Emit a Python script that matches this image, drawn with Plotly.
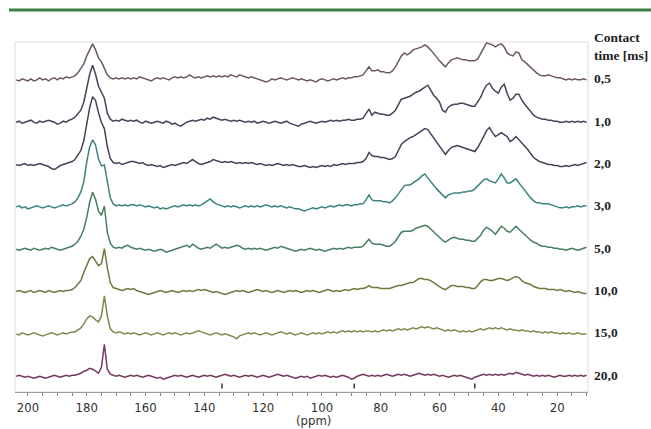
import plotly.graph_objects as go

# chemical shift axis (ppm), one point per ppm, from 204 down to 10
PPM = list(range(204, 9, -1))

CONTACT_LABELS = ["0,5", "1,0", "2,0", "3,0", "5,0", "10,0", "15,0", "20,0"]

# intensities (arbitrary units) for each contact time, ordered 204 -> 10 ppm
T05 = [0, -1, 1, 0, -1, 1, -1, 0, 2, 0, 1, -1, 1, 2, 0, 2, 1, 3, 2, 3,
       4, 7, 11, 16, 24, 30, 36, 30, 22, 18, 12, 5, 2, 1, 2, 1, 2, 1, 2, 1,
       2, 1, 3, 2, 1, 0, -1, 1, 2, 1, 2, 1, 0, 2, 3, 2, 3, 2, 3, 5,
       3, 2, 3, 2, 3, 4, 3, 4, 3, 4, 3, 4, 3, 5, 4, 3, 5, 4, 3, 2,
       3, 2, 1, 0, -1, -2, -1, 1, 0, 1, 2, 1, 0, 1, 2, 1, 0, 1, 0, -1,
       0, -1, -2, 0, 1, 0, -1, 0, 1, 0, 1, 2, 1, 2, 2, 3, 3, 4, 5, 9,
       13, 9, 9, 10, 8, 8, 7, 7, 9, 13, 18, 24, 27, 25, 27, 30, 31, 32, 33, 35,
       33, 30, 26, 23, 19, 16, 13, 17, 20, 21, 22, 21, 20, 20, 19, 19, 19, 21, 26, 32,
       37, 36, 35, 33, 35, 36, 33, 27, 25, 24, 28, 27, 20, 18, 15, 12, 9, 7, 5, 4,
       4, 5, 4, 3, 2, 2, 1, 0, 1, 0, 1, 0, 0, 1, 0]

T10 = [0, 1, -1, 0, 1, 2, 0, -1, 1, 0, 1, 2, 1, 0, -2, -1, 1, 0, 2, 3,
       5, 8, 12, 20, 36, 48, 57, 48, 36, 30, 24, 9, 3, 1, 2, 1, 3, 2, 1, 2,
       1, 2, 0, -1, 1, 0, -1, 0, 1, 0, -1, 1, 0, -2, -1, -3, -4, -2, 0, 1,
       2, 1, 2, 3, 2, 4, 3, 5, 4, 3, 2, 3, 2, 1, 2, 1, 2, 1, 0, 1,
       0, 1, -1, 0, 1, 0, -1, 0, 1, 0, -1, 0, 1, -1, -2, -3, -4, -2, -1, 0,
       1, 0, -1, 0, 1, 0, 1, 2, 1, 2, 1, 2, 2, 3, 2, 2, 3, 3, 4, 8,
       13, 7, 10, 9, 8, 8, 7, 7, 9, 12, 18, 23, 24, 25, 26, 28, 30, 31, 33, 35,
       37, 32, 27, 24, 20, 12, 10, 15, 17, 18, 18, 19, 19, 18, 17, 16, 16, 20, 25, 32,
       37, 39, 34, 31, 29, 35, 38, 29, 22, 24, 28, 28, 22, 18, 14, 10, 7, 5, 4, 3,
       3, 2, 2, 1, 1, 0, 0, 1, 0, 1, 0, 1, 0, 1, 0]

T20 = [0, -1, 0, 1, -1, 0, -1, 0, 1, 0, -1, -2, -4, -5, -3, -1, 0, 1, 2, 3,
       5, 9, 14, 24, 42, 57, 68, 64, 52, 42, 36, 18, 6, 2, 1, 2, 0, 1, 2, 3,
       3, 2, 1, 2, 0, -1, 0, -1, -2, -1, -3, -2, -1, 0, -1, 0, 1, 2, 1, 3,
       5, 3, 1, 0, 1, 2, 3, 5, 4, 3, 2, 3, 2, 3, 2, 1, 2, 1, 2, 1,
       2, 1, 0, 1, 0, -1, 0, -1, 0, 1, 0, -1, 0, -1, 0, -1, -2, -2, -1, -2,
       -3, -2, -3, -2, -1, -2, -1, -2, 0, -1, 0, 1, 0, 1, 1, 1, 2, 2, 3, 6,
       12, 9, 8, 8, 7, 7, 6, 5, 6, 8, 14, 20, 23, 25, 27, 28, 30, 32, 34, 36,
       35, 31, 27, 23, 18, 14, 10, 14, 17, 18, 19, 18, 17, 16, 15, 14, 13, 17, 22, 28,
       34, 37, 32, 28, 30, 32, 30, 28, 23, 25, 28, 25, 22, 19, 15, 11, 7, 5, 3, 2,
       1, 0, 0, -1, -1, -2, -2, -1, -2, -1, 0, -1, 0, 1, 2]

T30 = [0, 1, -1, 0, -2, -1, 0, 1, 0, -1, 0, 1, 0, -1, 0, 1, 2, 1, 2, 3,
       5, 9, 15, 25, 45, 60, 67, 62, 48, 41, 42, 26, 9, 3, 1, 2, 1, 2, 1, 2,
       2, 1, 2, 1, 0, 1, 0, -1, 0, -2, -1, -2, -1, 0, 1, 0, 1, 2, 1, 2,
       1, 2, 1, 2, 4, 6, 8, 5, 3, 2, 1, 0, 1, 0, 1, 0, -1, 0, 1, 0,
       1, 0, 1, 0, 1, 2, 1, 0, 1, 0, 1, 0, -1, 0, -1, -2, -2, -3, -4, -3,
       -2, -1, -2, -1, 0, -1, 0, 1, 0, 1, 2, 1, 2, 2, 1, 2, 2, 3, 3, 7,
       12, 7, 6, 6, 6, 5, 5, 4, 6, 9, 13, 18, 21, 22, 22, 24, 26, 28, 31, 33,
       29, 25, 22, 18, 15, 12, 9, 12, 13, 14, 14, 14, 15, 15, 16, 16, 18, 21, 24, 27,
       28, 26, 25, 24, 28, 33, 29, 24, 24, 26, 28, 24, 20, 16, 12, 9, 6, 4, 4, 3,
       3, 3, 2, 1, 0, -1, -1, 0, -1, 0, 0, 1, 0, 1, 1]

T50 = [0, -1, 0, 1, 0, -1, 1, 0, -1, 0, 1, 0, 2, 1, 0, -1, 0, 1, 2, 3,
       5, 8, 13, 20, 32, 47, 57, 50, 38, 34, 43, 17, 6, 2, 1, 2, 1, 3, 4, 2,
       1, 0, 1, 0, -1, 0, -1, -2, -1, 0, -1, -3, -2, -1, 0, 1, 2, 3, 4, 2,
       5, 3, 1, 0, 1, 2, 1, 3, 5, 3, 1, 2, 1, 2, 3, 4, 3, 1, 0, 1,
       0, 1, 0, 1, 0, -1, 0, 1, 2, 1, 3, 2, 1, 0, -1, -2, -1, 0, -1, 0,
       1, 0, -1, 0, -1, -2, -1, 0, 1, 0, 1, 0, 1, 2, 1, 2, 2, 2, 3, 6,
       10, 6, 5, 5, 5, 4, 3, 3, 5, 8, 12, 17, 18, 18, 18, 19, 21, 22, 23, 24,
       23, 20, 17, 14, 12, 9, 7, 9, 11, 12, 11, 10, 10, 9, 9, 8, 8, 11, 14, 19,
       22, 20, 18, 15, 19, 23, 21, 18, 17, 20, 23, 20, 17, 14, 12, 9, 7, 6, 4, 3,
       3, 2, 2, 1, 1, 0, 0, -1, 0, 1, 0, -1, 0, 1, 2]

T100 = [0, 1, 0, -1, 0, 1, -1, 0, 1, 0, -1, 1, 0, -1, 0, 1, 0, 1, 1, 2,
        4, 7, 11, 19, 27, 33, 35, 30, 26, 28, 43, 24, 9, 4, 3, 2, 1, 2, 3, 2,
        3, 1, 0, -1, -2, -3, -2, -1, 0, 1, 0, -1, 0, 1, 0, -1, 0, 1, 0, 1,
        0, 1, 2, 1, 2, 1, 0, -1, 0, -1, -2, -3, -2, -1, 0, 1, 0, 1, 0, -1,
        0, 1, 2, 1, 0, 1, 0, -1, 0, 1, 0, -1, 0, 1, 0, 1, 0, -1, 0, 1,
        0, 1, 0, -1, 0, 1, 2, 1, 0, 1, 0, 1, 2, 1, 2, 3, 2, 3, 3, 4,
        6, 4, 4, 4, 3, 3, 3, 3, 4, 5, 6, 6, 7, 8, 9, 9, 11, 13, 13, 12,
        12, 11, 9, 7, 5, 3, 2, 4, 6, 6, 5, 5, 5, 4, 4, 3, 3, 6, 10, 12,
        12, 11, 11, 12, 13, 13, 12, 11, 12, 14, 15, 14, 11, 9, 8, 7, 5, 4, 3, 3,
        3, 2, 2, 2, 1, 2, 1, 0, 1, 0, -1, 0, -1, -2, -2]

T150 = [0, -1, 1, 0, -1, 0, 1, 0, -1, -2, -1, 0, 1, 0, -1, 0, 1, 0, 1, 2,
        2, 4, 6, 10, 15, 18, 17, 14, 12, 18, 38, 18, 5, 2, 1, 2, 1, 0, 1, 0,
        1, 0, -1, 0, 1, 0, -1, 0, 1, 0, -1, 0, 1, 0, 1, 0, -1, 0, 1, 0,
        1, 2, 3, 2, 1, 0, -1, 0, 1, 0, -1, 0, -1, -2, -3, -5, -2, -1, 0, 1,
        0, 1, 0, -1, 0, 1, 0, -1, 0, 1, 2, 1, 0, 1, 0, -1, 0, 1, 0, -1,
        0, 1, 0, 1, 0, 1, 2, 1, 2, 1, 2, 3, 2, 3, 2, 3, 2, 3, 2, 3,
        3, 2, 3, 2, 3, 4, 3, 4, 3, 4, 5, 4, 5, 4, 5, 6, 5, 6, 7, 6,
        7, 6, 5, 6, 5, 4, 3, 4, 3, 4, 3, 2, 3, 2, 3, 2, 3, 4, 5, 4,
        5, 6, 5, 6, 5, 6, 5, 4, 5, 4, 4, 3, 4, 3, 3, 2, 3, 2, 2, 1,
        2, 1, 2, 1, 1, 0, 1, 0, 1, 0, 0, 1, 0, 0, 0]

T200 = [0, 1, 0, -1, 0, -1, -2, -1, 0, -1, -2, -1, 0, 1, 0, -1, 0, 1, 0, 1,
        1, 2, 3, 5, 6, 8, 7, 5, 3, 9, 32, 7, 2, 1, 0, 1, 0, -1, 0, 1,
        0, 1, 0, -1, 0, 1, 0, -1, -2, -1, -3, -2, -1, 0, 1, 0, 1, 0, -1, 0,
        1, 0, -1, 0, 1, 0, 1, 0, -1, 0, 1, 2, 1, 0, 1, 0, -1, 0, 1, 0,
        1, 0, -1, 0, 1, 0, -1, 0, 1, 2, 1, 0, 1, 0, -1, -2, -1, 0, -1, 0,
        -2, -1, 0, 1, 0, 1, 0, -1, 0, -1, 0, 1, 0, -1, -3, -2, 0, 1, 2, 1,
        0, 1, 0, 1, 0, 1, 2, 1, 0, 1, 2, 1, 2, 1, 0, 1, 2, 3, 2, 1,
        2, 1, 2, 1, 0, 1, 0, -1, 0, 1, 0, 1, 0, -1, -2, -3, -1, 0, 1, 2,
        1, 2, 1, 2, 1, 2, 1, 2, 3, 2, 4, 3, 2, 1, 2, 1, 0, 1, 0, 1,
        0, 1, 0, -1, 0, 1, 0, 0, 1, 0, 1, 0, 1, 0, 1]

# small picked-peak markers under the 20,0 ms trace
PICK_PPM = [134, 89, 48]

SPECTRA = [T05, T10, T20, T30, T50, T100, T150, T200]

# ---- styling ----
COLORS = ["#6e5668", "#47445a", "#454359", "#3a847f", "#487f61",
          "#6e7a42", "#85874b", "#74395f"]
GAP = 42.4          # vertical spacing between stacked spectra
BASE0 = 15.8        # baseline of the lowest spectrum
N = len(SPECTRA)
PLOT_H = 350.5
FONT_AX = "DejaVu Sans Condensed, DejaVu Sans, Arial, sans-serif"
FONT_LBL = "Liberation Serif, Times New Roman, serif"

fig = go.Figure()
for i, (vals, col) in enumerate(zip(SPECTRA, COLORS)):
    base = BASE0 + GAP * (N - 1 - i)
    fig.add_trace(go.Scatter(
        x=PPM, y=[v + base for v in vals], mode="lines",
        line=dict(color=col, width=1.5), hoverinfo="skip", showlegend=False))

fig.add_trace(go.Scatter(
    x=PICK_PPM, y=[6] * len(PICK_PPM), mode="markers",
    marker=dict(symbol="line-ns", size=3.5, line=dict(color="#333", width=1.5)),
    hoverinfo="skip", showlegend=False))

annotations = []
for i, lab in enumerate(CONTACT_LABELS):
    base = BASE0 + GAP * (N - 1 - i)
    annotations.append(dict(
        x=1.007, xref="paper", y=base + 1, yref="y", xanchor="left",
        yanchor="middle", text="<b>%s</b>" % lab, showarrow=False,
        font=dict(family=FONT_LBL, size=13.5, color="#222")))
annotations.append(dict(
    x=1.007, xref="paper", y=(392.5 - 46.5) / PLOT_H, yref="paper",
    xanchor="left", yanchor="middle", align="left",
    text="<b>Contact</b><br><b>time [ms]</b>", showarrow=False,
    font=dict(family=FONT_LBL, size=13.5, color="#222")))
annotations.append(dict(
    x=(313 - 15) / 573, xref="paper", y=(392.5 - 421) / PLOT_H, yref="paper",
    xanchor="center", yanchor="middle", text="(ppm)", showarrow=False,
    font=dict(family=FONT_AX, size=13, color="#333")))

shapes = [
    dict(type="rect", xref="paper", yref="paper", x0=0, y0=0, x1=1, y1=1,
         line=dict(color="#dedede", width=1), layer="below"),
    dict(type="line", xref="paper", yref="paper",
         x0=(9 - 15) / 573, x1=(651 - 15) / 573,
         y0=(392.5 - 10) / PLOT_H, y1=(392.5 - 10) / PLOT_H,
         line=dict(color="#3c7f47", width=3)),
]

fig.update_layout(
    width=651, height=429,
    margin=dict(l=15, r=63, t=42, b=36.5),
    paper_bgcolor="white", plot_bgcolor="white",
    annotations=annotations, shapes=shapes,
    xaxis=dict(
        range=[204.4, 9.5], tickvals=[200, 180, 160, 140, 120, 100, 80, 60, 40, 20],
        showgrid=False, zeroline=False, showline=True, linecolor="#9a9a9a",
        linewidth=1, ticks="outside", ticklen=3, tickcolor="#888",
        tickfont=dict(family=FONT_AX, size=13, color="#333"),
        minor=dict(dtick=5, tick0=0, ticks="outside", ticklen=3, tickcolor="#888"),
    ),
    yaxis=dict(range=[0, PLOT_H], visible=False, fixedrange=True),
)

fig.write_html("out.html",
               config={"displayModeBar": False},
               post_script="document.body.style.margin='0px';"
                           "document.body.style.overflow='hidden';")
